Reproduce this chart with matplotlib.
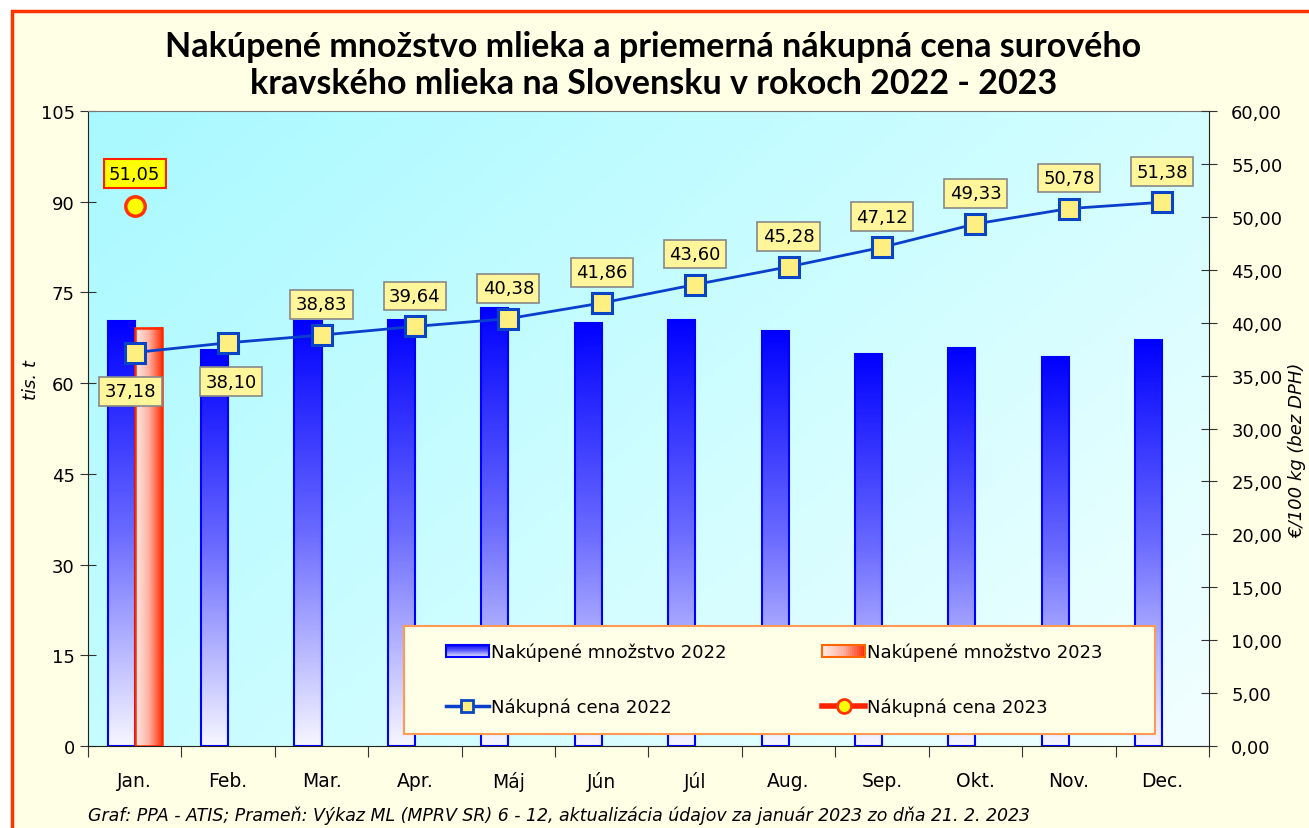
import matplotlib
matplotlib.use("Agg")
import matplotlib.pyplot as plt
import numpy as np
from matplotlib.colors import LinearSegmentedColormap
from matplotlib.lines import Line2D
from matplotlib.patches import Patch, Rectangle
from matplotlib.ticker import FuncFormatter, MultipleLocator

months = ["Jan.", "Feb.", "Mar.", "Apr.", "Máj", "Jún", "Júl", "Aug.", "Sep.", "Okt.", "Nov.", "Dec."]
qty_2022 = [70.2, 65.5, 70.2, 70.4, 72.5, 70.0, 70.5, 68.7, 64.9, 65.8, 64.3, 67.1]
qty_2023 = [69.2]
price_2022 = [37.18, 38.10, 38.83, 39.64, 40.38, 41.86, 43.60, 45.28, 47.12, 49.33, 50.78, 51.38]
price_2023 = [51.05]

title = ("Nakúpené množstvo mlieka a priemerná nákupná cena surového\n"
         "kravského mlieka na Slovensku v rokoch 2022 - 2023")
source = ("Graf: PPA - ATIS; Prameň: Výkaz ML (MPRV SR) 6 - 12, "
          "aktualizácia údajov za január 2023 zo dňa 21. 2. 2023")

BLUE_BAR = LinearSegmentedColormap.from_list("bb", ["#f6f6ff", "#6b6bff", "#0000ff"])
RED_BAR = LinearSegmentedColormap.from_list("rb", ["#ffeee8", "#ffb0a0", "#ff2a00"])
BG = LinearSegmentedColormap.from_list("bg", ["#f2ffff", "#ccfdff", "#a8f9ff"])


def fmt(v):
    return f"{v:.2f}".replace(".", ",")


class GradHandler:
    # legend swatch drawn as thin stripes to fake the gradient fill
    def __init__(self, cmap, edge, vertical=True):
        self.cmap, self.edge, self.vertical = cmap, edge, vertical

    def legend_artist(self, legend, orig_handle, fontsize, handlebox):
        x0, y0 = -handlebox.xdescent, -handlebox.ydescent
        w, h = handlebox.width, handlebox.height
        tr = handlebox.get_transform()
        n = 20
        for i in range(n):
            c = self.cmap((i + 0.5) / n)
            if self.vertical:
                r = Rectangle((x0, y0 + h * i / n), w, h / n, fc=c, ec="none", transform=tr)
            else:
                r = Rectangle((x0 + w * i / n, y0), w / n, h, fc=c, ec="none", transform=tr)
            handlebox.add_artist(r)
        box = Rectangle((x0, y0), w, h, fc="none", ec=self.edge, lw=1.5, transform=tr)
        handlebox.add_artist(box)
        return box


fig = plt.figure(figsize=(13.09, 8.29), dpi=100, facecolor="white")
fig.patches.append(Rectangle((0.0092, -0.02), 1.05, 1.0055, transform=fig.transFigure,
                             fc="#ffffe6", ec="#ff3300", lw=2.5, zorder=-10))

ax = fig.add_axes([0.0672, 0.0989, 0.8564, 0.766])
ax.set_facecolor("none")
x = np.arange(len(months))
w = 0.29

# plot-area gradient
gx, gy = np.meshgrid(np.linspace(0, 1, 200), np.linspace(0, 1, 200))
ax.imshow((1 - gx) * 0.6 + gy * 0.4, cmap=BG, extent=[-0.5, 11.5, 0, 105],
          origin="lower", aspect="auto", zorder=0)

grad_v = np.linspace(0, 1, 256).reshape(-1, 1)
grad_h = np.linspace(0, 1, 256).reshape(1, -1)
for xi, v in zip(x, qty_2022):
    ax.imshow(grad_v, cmap=BLUE_BAR, extent=[xi - w, xi, 0, v], origin="lower",
              aspect="auto", zorder=2)
ax.bar(x - w / 2, qty_2022, width=w, fill=False, edgecolor="#0000ff", lw=1.5, zorder=3)
for xi, v in zip(x[:len(qty_2023)], qty_2023):
    ax.imshow(grad_h, cmap=RED_BAR, extent=[xi, xi + w, 0, v], origin="lower",
              aspect="auto", zorder=2)
ax.bar(x[:len(qty_2023)] + w / 2, qty_2023, width=w, fill=False, edgecolor="#ff2a00",
       lw=1.8, zorder=3)

ax.set_xlim(-0.5, 11.5)
ax.set_ylim(0, 105)
ax.yaxis.set_major_locator(MultipleLocator(15))
ax.set_xticks(np.arange(-0.5, 12, 1))
ax.set_xticklabels([])
ax.set_xticks(x, minor=True)
ax.set_xticklabels(months, minor=True, fontsize=13.5)
ax.tick_params(axis="x", which="minor", length=0, pad=18)
ax.tick_params(axis="x", which="major", length=8, direction="out", color="#333333")
ax.tick_params(axis="y", direction="inout", length=12, labelsize=13, color="#333333")
ax.set_ylabel("tis. t", fontsize=13, style="italic")
ax.yaxis.set_label_coords(-0.043, 0.578)
for s in ["left", "bottom"]:
    ax.spines[s].set_color("#222222")
ax.spines["top"].set_color("#777777")
ax.spines["right"].set_visible(False)

ax2 = ax.twinx()
ax2.set_ylim(0, 60)
ax2.yaxis.set_major_locator(MultipleLocator(5))
ax2.yaxis.set_major_formatter(FuncFormatter(lambda v, p: fmt(v)))
ax2.tick_params(axis="y", direction="inout", length=12, labelsize=13, pad=10, color="#333333")
ax2.spines["right"].set_color("#222222")
for s in ["left", "top", "bottom"]:
    ax2.spines[s].set_visible(False)

ax2.plot(x, price_2022, color="#0a3fcc", lw=2, marker="s", ms=14,
         mfc="#ffee80", mec="#0844c4", mew=2.2, zorder=5)
ax2.plot(x[:len(price_2023)], price_2023, color="#ff2200", lw=3, marker="o", ms=14,
         mfc="#ffff00", mec="#ff3300", mew=2.5, zorder=5)

for i, (xi, v) in enumerate(zip(x, price_2022)):
    off = -28 if i < 2 else 22
    dx = -3 if i == 0 else 2 if i == 1 else 0
    ax2.annotate(fmt(v), (xi, v), xytext=(dx, off),
                 textcoords="offset points", ha="center", va="center", fontsize=13,
                 bbox=dict(boxstyle="square,pad=0.3", fc="#fff59a", ec="#888888", lw=1.2),
                 zorder=6)
for xi, v in zip(x, price_2023):
    ax2.annotate(fmt(v), (xi, v), xytext=(0, 23),
                 textcoords="offset points", ha="center", va="center", fontsize=13,
                 bbox=dict(boxstyle="square,pad=0.3", fc="#ffff00", ec="#ff2200", lw=1.5),
                 zorder=6)

ax2.set_ylabel("€/100 kg (bez DPH)", fontsize=13, style="italic", rotation=90)
ax2.yaxis.set_label_coords(1.071, 0.468)

# legend frame drawn by hand so the padding matches
ax2.add_patch(Rectangle((0.2819, 0.0189), 0.6699, 0.1701, transform=ax2.transAxes,
                        fc="#ffffe8", ec="#ff9955", lw=1.5, zorder=9))
h_b22 = Patch()
h_b23 = Patch()
h_p22 = Line2D([], [], color="#0a3fcc", lw=2.5, marker="s", ms=9, mfc="#ffee80", mec="#0844c4", mew=2)
h_p23 = Line2D([], [], color="#ff2200", lw=4, marker="o", ms=10, mfc="#ffff00", mec="#ff3300", mew=2)
leg = ax2.legend([h_b22, h_p22, h_b23, h_p23],
                 ["Nakúpené množstvo 2022", "Nákupná cena 2022",
                  "Nakúpené množstvo 2023", "Nákupná cena 2023"],
                 ncol=2, loc="center left", bbox_to_anchor=(0.319, 0.1047),
                 fontsize=13, handlelength=2.4, handletextpad=0.1, columnspacing=5.3,
                 labelspacing=2.0, borderpad=0, borderaxespad=0, frameon=False,
                 handler_map={h_b22: GradHandler(BLUE_BAR, "#0000ff"),
                              h_b23: GradHandler(RED_BAR, "#ff6600", vertical=False)})
leg.set_zorder(10)

fig.text(0.499, 0.921, title, ha="center", va="center", fontsize=24.5, fontweight="bold",
         family="Lato", linespacing=1.2)
fig.text(0.0672, 0.016, source, ha="left", va="center", fontsize=12.5, style="italic")

fig.savefig("out.png", dpi=100, facecolor=fig.get_facecolor())
